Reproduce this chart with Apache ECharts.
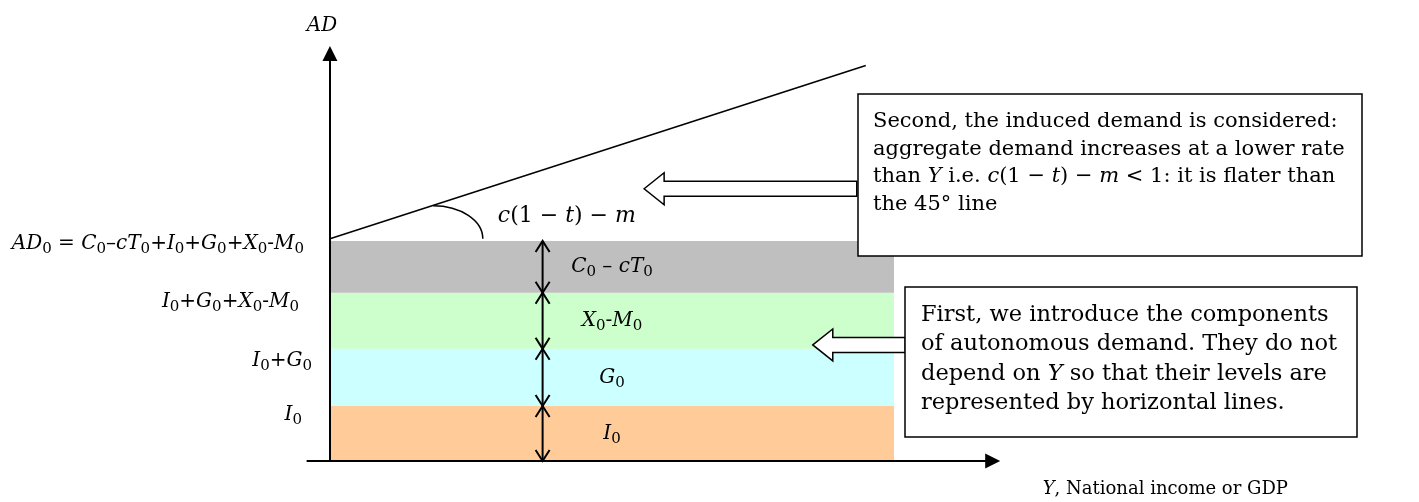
<!DOCTYPE html>
<html>
<head>
<meta charset="utf-8">
<title>Aggregate demand</title>
<script src="https://cdn.jsdelivr.net/npm/echarts@6/dist/echarts.min.js"></script>
<style>
  html, body { margin: 0; padding: 0; background: #fff; }
  #chart { width: 1419px; height: 502px; }
</style>
</head>
<body>
<div id="chart"></div>
<script>
// autonomous demand components, bottom to top
const bandNames = ['I0', 'G0', 'X0-M0', 'C0 – cT0']
const bandValues = [10, 10.4, 10.2, 9.4]
const bandEnd = 100
// labels of the cumulated levels on the AD axis
const levelNames = ['I0', 'I0+G0', 'I0+G0+X0-M0', 'AD0 = C0–cT0+I0+G0+X0-M0']
// induced demand line
const adX = [0, 95]
const adY = [40.4, 71.9]
// angle marker, from the line down to the top of the bands
const arcFrom = [18.3, 46.4]
const arcTo = [27.1, 40.4]
const slopeLabel = [42, 44.4]
// hollow pointer arrows: [tip x, tail x, y]
const pointers = [[55.7, 93.4, 49.5], [85.6, 102, 21.1]]

const F = 'DejaVu Serif'
const bandColors = ['#FFCC99', '#CCFFFF', '#CCFFCC', '#BFBFBF']
const arrowX = 37.7
const bandLabelX = 50
const levelGap = [28, 18, 31, 26]
const levelDy = [9, 12, 9, 3]

// zrender level rich styles (custom series / graphic)
const zr = {
  i: {fontFamily: F, fontSize: 20, fontStyle: 'italic', fill: '#000', lineHeight: 26},
  n: {fontFamily: F, fontSize: 20, fill: '#000', lineHeight: 26},
  s: {fontFamily: F, fontSize: 15, fill: '#000', lineHeight: 17, verticalAlign: 'bottom'}
}
const zrBig = {
  i: {fontFamily: F, fontSize: 22, fontStyle: 'italic', fill: '#000', lineHeight: 28},
  n: {fontFamily: F, fontSize: 22, fill: '#000', lineHeight: 28}
}

// letters italic, 0 as subscript, rest upright
function fmt (s) {
  return s.replace(/([A-Za-z]+)|(0)|([^A-Za-z0]+)/g, function (m, a, b, c) {
    if (a) return '{i|' + a + '}'
    if (b) return '{s|0}'
    return '{n|' + c + '}'
  })
}

// stacked levels
let levels = []
let acc = 0
bandValues.forEach(function (v) {
  levels.push([acc, acc + v])
  acc += v
})

const chart = echarts.init(document.getElementById('chart'))

const option = {
  animation: false,
  grid: {left: 307.4, right: 426.3, top: 53.4, bottom: 41, outerBoundsMode: 'none'},
  xAxis: {
    type: 'value',
    min: -4,
    max: 117.5,
    z: 5,
    axisLine: {onZero: true, lineStyle: {color: '#000', width: 2}, symbol: ['none', 'triangle'], symbolSize: [15, 15]},
    axisTick: {show: false},
    axisLabel: {show: false},
    splitLine: {show: false},
    name: '{i|Y}, National income or GDP',
    nameLocation: 'end',
    nameGap: 50,
    nameTextStyle: {
      fontFamily: F, fontSize: 18, color: '#000', align: 'left', verticalAlign: 'top', padding: [19, 0, 0, 0],
      rich: {i: {fontFamily: F, fontSize: 18, fontStyle: 'italic', color: '#000'}}
    }
  },
  yAxis: {
    type: 'value',
    min: 0,
    max: 74.1,
    z: 5,
    axisLine: {onZero: true, lineStyle: {color: '#000', width: 2}, symbol: ['none', 'triangle'], symbolSize: [15, 15]},
    axisTick: {show: false},
    axisLabel: {show: false},
    splitLine: {show: false},
    name: 'AD',
    nameLocation: 'end',
    nameGap: 18,
    nameTextStyle: {fontFamily: F, fontSize: 20, fontStyle: 'italic', color: '#000', padding: [0, 16, 0, 0]}
  },
  series: [
    {
      // horizontal bands
      type: 'custom',
      z: 1,
      data: levels.map(function (l, i) { return [l[0], l[1], i] }),
      renderItem: function (params, api) {
        const lo = api.coord([0, api.value(0)])
        const hi = api.coord([bandEnd, api.value(1)])
        return {
          type: 'rect',
          shape: {x: lo[0], y: hi[1], width: hi[0] - lo[0], height: lo[1] - hi[1]},
          style: {fill: bandColors[api.value(2)]}
        }
      }
    },
    {
      // double headed arrows through each band
      type: 'custom',
      z: 3,
      data: levels.map(function (l) { return [arrowX, l[0], l[1]] }),
      renderItem: function (params, api) {
        const b = api.coord([api.value(0), api.value(1)])
        const t = api.coord([api.value(0), api.value(2)])
        const st = {stroke: '#000', lineWidth: 2, fill: null}
        return {
          type: 'group',
          children: [
            {type: 'line', shape: {x1: b[0], y1: b[1], x2: t[0], y2: t[1]}, style: st},
            {type: 'polyline', shape: {points: [[t[0] - 7, t[1] + 11], [t[0], t[1]], [t[0] + 7, t[1] + 11]]}, style: st},
            {type: 'polyline', shape: {points: [[b[0] - 7, b[1] - 11], [b[0], b[1]], [b[0] + 7, b[1] - 11]]}, style: st}
          ]
        }
      }
    },
    {
      // band names
      type: 'custom',
      z: 4,
      data: levels.map(function (l, i) { return [bandLabelX, (l[0] + l[1]) / 2, i] }),
      renderItem: function (params, api) {
        const p = api.coord([api.value(0), api.value(1)])
        return {
          type: 'text',
          x: p[0],
          y: p[1],
          style: {text: fmt(bandNames[api.value(2)]), rich: zr, align: 'center', verticalAlign: 'middle', fill: '#000'}
        }
      }
    },
    {
      // level names on the left of the AD axis
      type: 'custom',
      z: 4,
      clip: false,
      data: levels.map(function (l, i) { return [0, l[1], i] }),
      renderItem: function (params, api) {
        const i = api.value(2)
        const p = api.coord([api.value(0), api.value(1)])
        return {
          type: 'text',
          x: p[0] - levelGap[i],
          y: p[1] + levelDy[i],
          style: {text: fmt(levelNames[i]), rich: zr, align: 'right', verticalAlign: 'middle', fill: '#000'}
        }
      }
    },
    {
      // induced demand line
      type: 'line',
      z: 3,
      data: adX.map(function (x, i) { return [x, adY[i]] }),
      showSymbol: false,
      lineStyle: {color: '#000', width: 1.5}
    },
    {
      // angle marker and slope label
      type: 'custom',
      z: 3,
      data: [arcFrom.concat(arcTo)],
      encode: {x: [0, 2], y: [1, 3]},
      renderItem: function (params, api) {
        const a = api.coord([api.value(0), api.value(1)])
        const b = api.coord([api.value(2), api.value(3)])
        const lp = api.coord(slopeLabel)
        return {
          type: 'group',
          children: [
            {
              type: 'bezierCurve',
              shape: {
                x1: a[0], y1: a[1], x2: b[0], y2: b[1],
                cpx1: a[0] + 0.552 * (b[0] - a[0]), cpy1: a[1],
                cpx2: b[0], cpy2: b[1] - 0.552 * (b[1] - a[1])
              },
              style: {stroke: '#000', lineWidth: 1.5, fill: null}
            },
            {
              type: 'text',
              x: lp[0],
              y: lp[1],
              style: {text: '{i|c}{n|(1 − }{i|t}{n|) − }{i|m}', rich: zrBig, align: 'center', verticalAlign: 'middle'}
            }
          ]
        }
      }
    },
    {
      // hollow pointer arrows
      type: 'custom',
      z: 6,
      clip: false,
      data: pointers,
      renderItem: function (params, api) {
        const tip = api.coord([api.value(0), api.value(2)])
        const tail = api.coord([api.value(1), api.value(2)])
        const hl = 20
        const hh = 16
        const sh = 7.5
        return {
          type: 'polygon',
          shape: {
            points: [
              [tip[0], tip[1]],
              [tip[0] + hl, tip[1] - hh],
              [tip[0] + hl, tip[1] - sh],
              [tail[0], tail[1] - sh],
              [tail[0], tail[1] + sh],
              [tip[0] + hl, tip[1] + sh],
              [tip[0] + hl, tip[1] + hh]
            ]
          },
          style: {fill: '#fff', stroke: '#000', lineWidth: 1.5}
        }
      }
    }
  ],
  graphic: [
    {
      type: 'rect',
      z: 10,
      shape: {x: 858, y: 94, width: 504, height: 162},
      style: {fill: '#fff', stroke: '#000', lineWidth: 1.5}
    },
    {
      type: 'text',
      z: 11,
      x: 873,
      y: 108,
      style: {
        text: 'Second, the induced demand is considered:\naggregate demand increases at a lower rate\nthan {i|Y} i.e. {i|c}(1 − {i|t}) − {i|m} < 1: it is flater than\nthe 45° line',
        fontFamily: F, fontSize: 21, lineHeight: 27.5, fill: '#000',
        rich: {i: {fontFamily: F, fontSize: 21, fontStyle: 'italic', fill: '#000', lineHeight: 27.5}}
      }
    },
    {
      type: 'rect',
      z: 10,
      shape: {x: 905, y: 287, width: 452, height: 150},
      style: {fill: '#fff', stroke: '#000', lineWidth: 1.5}
    },
    {
      type: 'text',
      z: 11,
      x: 921,
      y: 300,
      style: {
        text: 'First, we introduce the components\nof autonomous demand. They do not\ndepend on {i|Y} so that their levels are\nrepresented by horizontal lines.',
        fontFamily: F, fontSize: 22.5, lineHeight: 29.5, fill: '#000',
        rich: {i: {fontFamily: F, fontSize: 22.5, fontStyle: 'italic', fill: '#000', lineHeight: 29.5}}
      }
    }
  ]
}

chart.setOption(option)
</script>
</body>
</html>
